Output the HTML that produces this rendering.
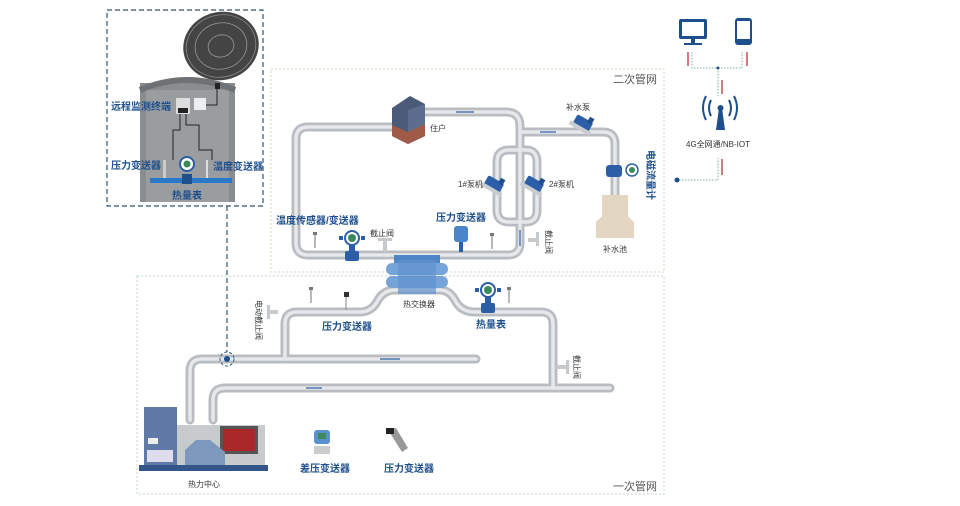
<!DOCTYPE html>
<html><head><meta charset="utf-8"><style>
html,body{margin:0;padding:0;background:#fff;}
svg{display:block;font-family:"Liberation Sans","Noto Sans CJK SC",sans-serif;}
.t{font-size:8px;fill:#333;}
.b{font-size:10px;fill:#1d4f8c;font-weight:bold;}
</style></head><body>
<svg width="960" height="506" viewBox="0 0 960 506" xmlns="http://www.w3.org/2000/svg">
<defs>
<g id="pump"><rect x="-9" y="-5" width="18" height="10" rx="2" fill="#2c5ea8"/><rect x="-12" y="4" width="24" height="4" fill="#c9cdd2"/><rect x="3" y="-9" width="5" height="6" fill="#1d4f8c"/></g>
<g id="tx"><circle cx="0" cy="0" r="7" fill="#fff" stroke="#2c5ea8" stroke-width="2"/><circle cx="0" cy="0" r="4" fill="#3b8a5b"/><rect x="-13" y="-2" width="4" height="4" fill="#2c5ea8"/><rect x="9" y="-2" width="4" height="4" fill="#2c5ea8"/><rect x="-3" y="7" width="6" height="7" fill="#2c5ea8"/><rect x="-7" y="13" width="14" height="10" rx="2" fill="#2c5ea8"/></g>
<g id="th"><line x1="0" y1="-8" x2="0" y2="6" stroke="#888" stroke-width="1.2"/><rect x="-2" y="-10" width="4" height="3" fill="#777"/></g>
</defs>
<!-- boxes -->
<rect x="271" y="69" width="393" height="203" fill="none" stroke="#d9d4b8" stroke-dasharray="2,2"/>
<rect x="137" y="276" width="527" height="218" fill="none" stroke="#bfd6d3" stroke-dasharray="2,2"/>
<rect x="107" y="10" width="156" height="196" fill="none" stroke="#2f5475" stroke-width="1.2" stroke-dasharray="5,3"/>
<line x1="227" y1="206" x2="227" y2="352" stroke="#2f5475" stroke-width="1.2" stroke-dasharray="5,3"/>
<text x="613" y="83" font-size="11" fill="#555">二次管网</text>
<text x="613" y="490" font-size="11" fill="#555">一次管网</text>
<!-- well -->
<rect x="140" y="83" width="95" height="119" fill="#8a8d90"/>
<rect x="146" y="90" width="83" height="112" fill="#9a9da0"/>
<path d="M140 90 Q187 70 235 90" fill="none" stroke="#6f7275" stroke-width="6"/>
<g transform="translate(221,46) rotate(-15)"><ellipse cx="0" cy="0" rx="38" ry="34" fill="#444"/><ellipse rx="26" ry="23" fill="none" stroke="#999" stroke-width="0.8"/><ellipse rx="13" ry="11" fill="none" stroke="#999" stroke-width="0.8"/><ellipse rx="35" ry="31" fill="none" stroke="#888" stroke-width="0.8"/></g>
<rect x="215" y="83" width="5" height="6" fill="#222"/>
<path d="M217 88 V105 H203" fill="none" stroke="#222"/>
<rect x="194" y="98" width="12" height="12" fill="#eee"/>
<rect x="176" y="98" width="14" height="16" fill="#ddd"/><rect x="178" y="108" width="10" height="5" fill="#222"/>
<path d="M180 114 V130 H173 V160 M186 114 V125 H199 V150 H212 V160" fill="none" stroke="#222"/>
<rect x="150" y="178" width="82" height="5" fill="#2a78c8"/>
<rect x="163" y="160" width="3" height="18" fill="#ccc"/><rect x="206" y="160" width="2" height="18" fill="#ddd"/>
<circle cx="187" cy="164" r="7" fill="#fff" stroke="#2c5ea8" stroke-width="2"/><circle cx="187" cy="164" r="3.5" fill="#3b8a5b"/><rect x="182" y="174" width="10" height="10" fill="#1d4f8c"/>
<text x="111" y="110" class="b">远程监测终端</text>
<text x="111" y="169" class="b">压力变送器</text>
<text x="213" y="170" class="b">温度变送器</text>
<text x="172" y="199" class="b">热量表</text>
<!-- pipes secondary -->
<g fill="none" stroke-linejoin="round" stroke-linecap="round">
<g stroke="#b9bdc1" stroke-width="9">
<path d="M392 127 H308 Q296 127 296 139 V243 Q296 255 308 255 H508 Q520 255 520 243 V126 Q520 112 506 112 H420"/>
<path d="M509 150 Q497 150 497 162 V210 Q497 222 509 222 H526 Q537 222 537 210 V162 Q537 150 526 150 Z"/>
<path d="M520 132 H603 Q615 132 615 144 V200"/>
<path d="M190 420 V371 Q190 359 202 359 H476"/>
<path d="M285 359 V324 Q285 312 297 312 H360 Q372 312 378 300 Q384 290 395 290 H440 Q450 290 456 302 Q462 312 475 312 H541 Q553 312 553 324 V388"/>
<path d="M213 420 V400 Q213 388 225 388 H610"/>
</g>
<g stroke="#e6e8ea" stroke-width="3.5">
<path d="M392 127 H308 Q296 127 296 139 V243 Q296 255 308 255 H508 Q520 255 520 243 V126 Q520 112 506 112 H420"/>
<path d="M509 150 Q497 150 497 162 V210 Q497 222 509 222 H526 Q537 222 537 210 V162 Q537 150 526 150 Z"/>
<path d="M520 132 H603 Q615 132 615 144 V200"/>
<path d="M190 420 V371 Q190 359 202 359 H476"/>
<path d="M285 359 V324 Q285 312 297 312 H360 Q372 312 378 300 Q384 290 395 290 H440 Q450 290 456 302 Q462 312 475 312 H541 Q553 312 553 324 V388"/>
<path d="M213 420 V400 Q213 388 225 388 H610"/>
</g></g>
<!-- flow arrows -->
<g stroke="#2c5ea8" stroke-width="1.2"><line x1="456" y1="112" x2="474" y2="112"/><line x1="540" y1="132" x2="556" y2="132"/><line x1="520" y1="230" x2="520" y2="246"/><line x1="380" y1="359" x2="400" y2="359"/><line x1="306" y1="388" x2="322" y2="388"/></g>
<!-- building -->
<path d="M392 108 L410 96 L425 104 L425 136 L408 144 L392 136 Z" fill="#4a5a78"/>
<path d="M408 110 L425 104 L425 136 L408 144 Z" fill="#5d6d8e"/>
<path d="M392 125 L408 132 L425 124 L425 136 L408 144 L392 136 Z" fill="#a05a48"/>
<text x="430" y="131" class="t">住户</text>
<!-- pumps -->
<use href="#pump" transform="translate(583,123) rotate(30)"/>
<use href="#pump" transform="translate(494,184) rotate(30)"/>
<use href="#pump" transform="translate(534,184) rotate(30)"/>
<text x="566" y="110" class="t">补水泵</text>
<text x="458" y="187" class="t">1#泵机</text>
<text x="549" y="187" class="t">2#泵机</text>
<rect x="606" y="165" width="16" height="12" rx="3" fill="#2c5ea8"/><circle cx="632" cy="170" r="6" fill="#fff" stroke="#2c5ea8" stroke-width="1.5"/><circle cx="632" cy="170" r="3" fill="#3b8a5b"/>
<text x="647" y="150" class="b" transform="rotate(90 647 150)" font-size="9">电磁流量计</text>
<path d="M602 195 H628 V216 L634 222 V238 H596 V222 L602 216 Z" fill="#e3d6c3"/>
<text x="603" y="252" class="t">补水池</text>
<!-- secondary instruments -->
<use href="#tx" transform="translate(352,238)"/>
<use href="#th" transform="translate(315,242)"/>
<use href="#th" transform="translate(492,243)"/>
<rect x="378" y="238" width="14" height="3" fill="#c6cacd"/><rect x="383" y="240" width="4" height="12" fill="#c6cacd"/>
<text x="370" y="236" class="t">截止阀</text>
<rect x="454" y="226" width="14" height="16" rx="3" fill="#4a86c8"/><rect x="459" y="242" width="4" height="10" fill="#2c5ea8"/>
<rect x="528" y="238" width="8" height="4" fill="#c6cacd"/><rect x="536" y="232" width="3" height="14" fill="#c6cacd"/>
<text x="546" y="230" class="t" transform="rotate(90 546 230)">截止阀</text>
<text x="276" y="224" class="b">温度传感器/变送器</text>
<text x="436" y="221" class="b">压力变送器</text>
<!-- heat exchanger -->
<rect x="394" y="255" width="46" height="10" fill="#4f86c6"/>
<rect x="386" y="263" width="62" height="12" rx="6" fill="#76a4d8"/>
<rect x="386" y="276" width="62" height="12" rx="6" fill="#76a4d8"/>
<rect x="398" y="260" width="38" height="34" fill="#5f92cf" opacity=".7"/>
<text x="403" y="307" class="t" font-size="7">热交换器</text>
<!-- primary instruments -->
<use href="#th" transform="translate(311,297)"/>
<rect x="344" y="292" width="5" height="5" fill="#333"/><line x1="346" y1="297" x2="346" y2="310" stroke="#888"/>
<use href="#th" transform="translate(509,297)"/>
<use href="#tx" transform="translate(488,290)"/>
<rect x="270" y="310" width="8" height="4" fill="#c6cacd"/><rect x="267" y="305" width="3" height="14" fill="#c6cacd"/>
<text x="256" y="300" class="t" font-size="7" transform="rotate(90 256 300)">电动截止阀</text>
<rect x="556" y="365" width="10" height="4" fill="#c6cacd"/><rect x="566" y="360" width="3" height="14" fill="#c6cacd"/>
<text x="574" y="355" class="t" font-size="7" transform="rotate(90 574 355)">截止阀</text>
<text x="322" y="330" class="b">压力变送器</text>
<text x="476" y="328" class="b">热量表</text>
<circle cx="227" cy="359" r="7" fill="none" stroke="#2f5475" stroke-dasharray="3,2"/><circle cx="227" cy="359" r="3" fill="#1d4f8c"/>
<!-- boiler -->
<rect x="175" y="425" width="90" height="40" fill="#c8cbce"/>
<rect x="220" y="426" width="38" height="28" fill="#555"/><rect x="223" y="429" width="32" height="22" fill="#a8282a"/>
<path d="M185 465 V450 L196 440 H210 L225 452 V465 Z" fill="#7d97bd"/>
<rect x="144" y="407" width="33" height="58" fill="#5f7aa6"/>
<rect x="148" y="438" width="10" height="6" fill="#eee"/><rect x="147" y="450" width="26" height="12" fill="#dde"/>
<rect x="139" y="465" width="129" height="6" fill="#34558a"/>
<text x="188" y="487" class="t" font-size="7">热力中心</text>
<!-- loose instruments -->
<rect x="314" y="430" width="16" height="14" rx="3" fill="#5a92d0"/><rect x="318" y="433" width="8" height="6" fill="#3b8a5b"/><rect x="314" y="446" width="16" height="8" fill="#ccc"/>
<text x="300" y="472" class="b">差压变送器</text>
<path d="M388 430 L396 428 L408 448 L402 452 Z" fill="#999"/><rect x="386" y="428" width="8" height="6" fill="#222"/>
<text x="384" y="472" class="b">压力变送器</text>
<!-- top right -->
<rect x="679" y="19" width="28" height="20" rx="2" fill="#1d4f8c"/><rect x="682" y="22" width="22" height="14" fill="#fff"/><rect x="691" y="39" width="4" height="4" fill="#1d4f8c"/><rect x="684" y="43" width="18" height="2" fill="#1d4f8c"/>
<rect x="735" y="18" width="17" height="27" rx="3" fill="#1d4f8c"/><rect x="737" y="21" width="13" height="18" fill="#fff"/>
<g stroke="#c0313a" stroke-width="1.3"><line x1="688" y1="52" x2="688" y2="66"/><line x1="747" y1="52" x2="747" y2="66"/><line x1="722" y1="80" x2="722" y2="94"/><line x1="722" y1="159" x2="722" y2="175"/></g>
<path d="M692 52 V68 H742 V52 M718 68 V96" fill="none" stroke="#8aa" stroke-dasharray="1.5,1.5"/>
<path d="M679 180 H718 V158" fill="none" stroke="#8aa" stroke-dasharray="1.5,1.5"/>
<circle cx="677" cy="180" r="2.5" fill="#1d4f8c"/><circle cx="718" cy="68" r="1.5" fill="#1d4f8c"/>
<path d="M716 130 L719 108 H722 L725 130 Z" fill="#1d4f8c"/><circle cx="720.5" cy="108" r="3" fill="#1d4f8c"/>
<path d="M711 100 Q707 108 711 116 M729 100 Q733 108 729 116 M706 96 Q700 108 706 120 M734 96 Q740 108 734 120" fill="none" stroke="#1d4f8c" stroke-width="2"/>
<text x="686" y="147" font-size="8" fill="#333">4G全网通/NB-IOT</text>
</svg>
</body></html>
